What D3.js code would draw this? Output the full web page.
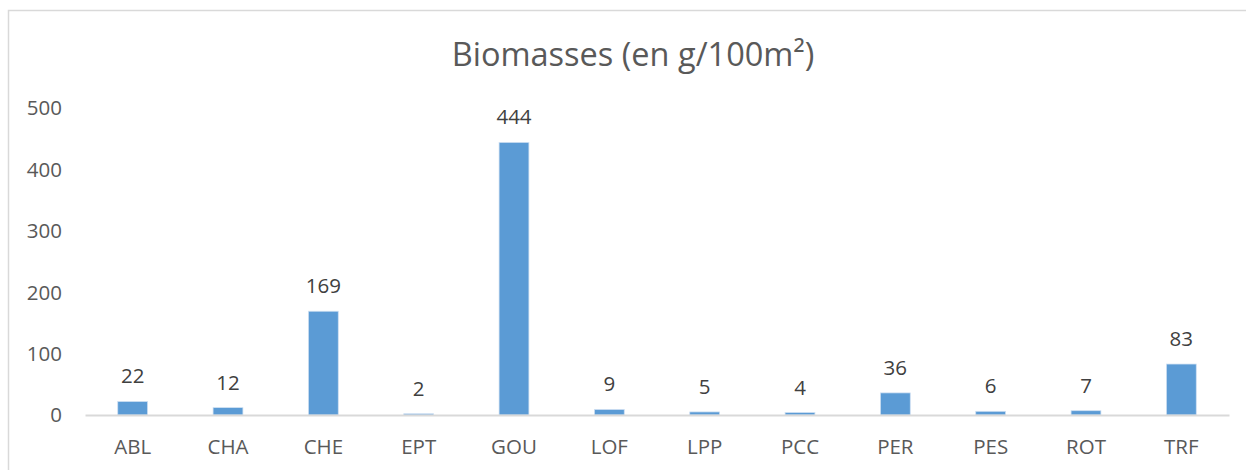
<!DOCTYPE html>
<html>
<head>
<meta charset="utf-8">
<script src="https://cdn.jsdelivr.net/npm/d3@7"></script>
<style>
  body { margin: 0; background: #fff; }
  svg text { font-family: "Open Sans", "DejaVu Sans", sans-serif; }
</style>
</head>
<body>
<div id="chart"></div>
<script>
// Chart data
const categories = ['ABL', 'CHA', 'CHE', 'EPT', 'GOU', 'LOF', 'LPP', 'PCC', 'PER', 'PES', 'ROT', 'TRF'];
const biomass = [22, 12, 169, 2, 444, 9, 5, 4, 36, 6, 7, 83];
const yTicks = [0, 100, 200, 300, 400, 500];
const titleText = 'Biomasses (en g/100m²)';

const width = 1246;
const height = 470;

const svg = d3.select('#chart')
    .append('svg')
    .attr('width', width)
    .attr('height', height);

// Chart frame (continues past the right and bottom edges)
svg.append('rect')
    .attr('x', 8.5)
    .attr('y', 10.5)
    .attr('width', 1260)
    .attr('height', 480)
    .attr('fill', '#fff')
    .attr('stroke', '#d9d9d9')
    .attr('stroke-width', 1.5);

// Scales
const gap = 0.687;
const x = d3.scaleBand()
    .domain(categories)
    .range([85, 1229])
    .paddingInner(gap)
    .paddingOuter(gap / 2);

const y = d3.scaleLinear()
    .domain([0, 500])
    .range([415, 108]);

// Title
svg.append('text')
    .attr('x', 633)
    .attr('y', 66)
    .attr('text-anchor', 'middle')
    .style('font-size', '32.5px')
    .style('fill', '#595959')
    .text(titleText);

// Y axis labels (no axis line, no gridlines)
const yAxis = d3.axisLeft(y)
    .tickValues(yTicks)
    .tickSize(0)
    .tickPadding(0);

svg.append('g')
    .attr('transform', 'translate(62, 0)')
    .call(yAxis)
    .call(g => g.select('.domain').remove())
    .selectAll('text')
    .attr('dy', '0.34em')
    .style('font-size', '20.5px')
    .style('fill', '#595959');

// Bars
svg.selectAll('.bar')
    .data(biomass)
    .enter()
    .append('rect')
    .attr('class', 'bar')
    .attr('x', (d, i) => x(categories[i]))
    .attr('y', d => y(d))
    .attr('width', x.bandwidth())
    .attr('height', d => y(0) - y(d))
    .attr('fill', '#5b9bd5')
    .attr('stroke', '#cfe0f2')
    .attr('stroke-width', 0.75);

// X axis
const xAxis = d3.axisBottom(x)
    .tickSize(0)
    .tickPadding(0);

svg.append('g')
    .attr('transform', `translate(0, ${y(0)})`)
    .call(xAxis)
    .call(g => g.select('.domain')
        .attr('stroke', '#d9d9d9')
        .attr('stroke-width', 2))
    .selectAll('text')
    .attr('y', 39)
    .attr('dy', 0)
    .style('font-size', '20.5px')
    .style('fill', '#595959');

// Data labels
svg.selectAll('.value-label')
    .data(biomass)
    .enter()
    .append('text')
    .attr('class', 'value-label')
    .attr('x', (d, i) => x(categories[i]) + x.bandwidth() / 2)
    .attr('y', d => y(d) - 18)
    .attr('text-anchor', 'middle')
    .style('font-size', '20.5px')
    .style('fill', '#404040')
    .text(d => d);
</script>
</body>
</html>
